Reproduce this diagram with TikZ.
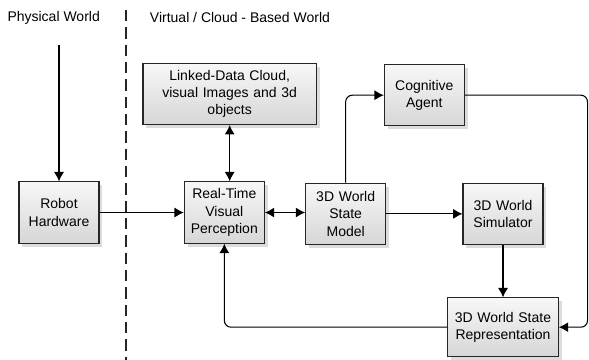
\documentclass[tikz,border=0pt]{standalone}
\usepackage{fontspec}
\setmainfont{Liberation Sans}
\usetikzlibrary{shapes,arrows.meta,shadows,positioning}
\tikzstyle{block} = [rectangle, draw=gray!30!black, line width=0.8pt, top color=gray!6, bottom color=gray!32,
    drop shadow={shadow xshift=2.5pt, shadow yshift=-2.5pt, fill=gray!50, opacity=0.55},
    text width=52pt, inner sep=4pt, align=center, minimum height=46pt]
\tikzstyle{line} = [draw, line width=0.8pt, -{Latex[length=7pt,width=7.5pt]}]
\tikzstyle{both} = [draw, line width=0.8pt, {Latex[length=7pt,width=7.5pt]}-{Latex[length=7pt,width=7.5pt]}]
\tikzstyle{divider} = [draw=gray!30!black, line width=1.2pt, dash pattern=on 8.5pt off 4.5pt]

\begin{document}
\begin{tikzpicture}[node distance=90pt, font=\fontsize{10.5}{13}\selectfont, auto]
	\useasboundingbox (-44.25pt,-110.6pt) rectangle (397.5pt,159.4pt);

		\node [block] (robot) {Robot\\Hardware};
		\node [block, node distance=124pt, right of=robot] (percep) {Real-Time\\Visual\\Perception};
		\node [block, node distance=91pt, right of=percep, yshift=-1pt] (model) {3D World\\State\\Model};
		\node [block, node distance=118pt, right of=model] (sim) {3D World\\Simulator};
		\node [block, node distance=85pt, below of=sim, text width=75pt, minimum height=44pt] (rep) {3D World State\\Representation};
		\node [block, node distance=89pt, above of=model, xshift=59pt] (cog) {Cognitive\\Agent};
		\node [block, node distance=89pt, above of=percep, xshift=4pt, text width=122pt] (linked) {Linked-Data Cloud,\\visual Images and 3d\\objects};

		\node [anchor=center] (phys) at (-4pt,146pt) {Physical World};
		\node [anchor=west, inner sep=0pt] (virt) at (68pt,146pt) {Virtual / Cloud - Based World};

		\coordinate (divtop) at (50.25pt,152pt);
		\coordinate (divbot) at (50.25pt,-110.6pt);
		\path [divider] (divtop) -- (divbot);

		\coordinate (sensor) at (0,125.6pt);
		\path [line] (sensor) -- (robot);

		\path [line] (robot) -- (percep);
		\path [both] (percep) -- (percep -| model.west);
		\path [both] (linked.south) -- (linked.south |- percep.north);
		\path [line] (model) -- (model -| sim.west);
		\path [line] (sim) -- (rep);

		\path [line, rounded corners=5pt] (model.north) |- (cog.west);
		\path [line, rounded corners=5pt] (cog.east) -- ++(92pt,0) |- (rep.east);
		\path [line, rounded corners=5pt] (rep.west) -| (percep.south);
	\end{tikzpicture}
\end{document}
